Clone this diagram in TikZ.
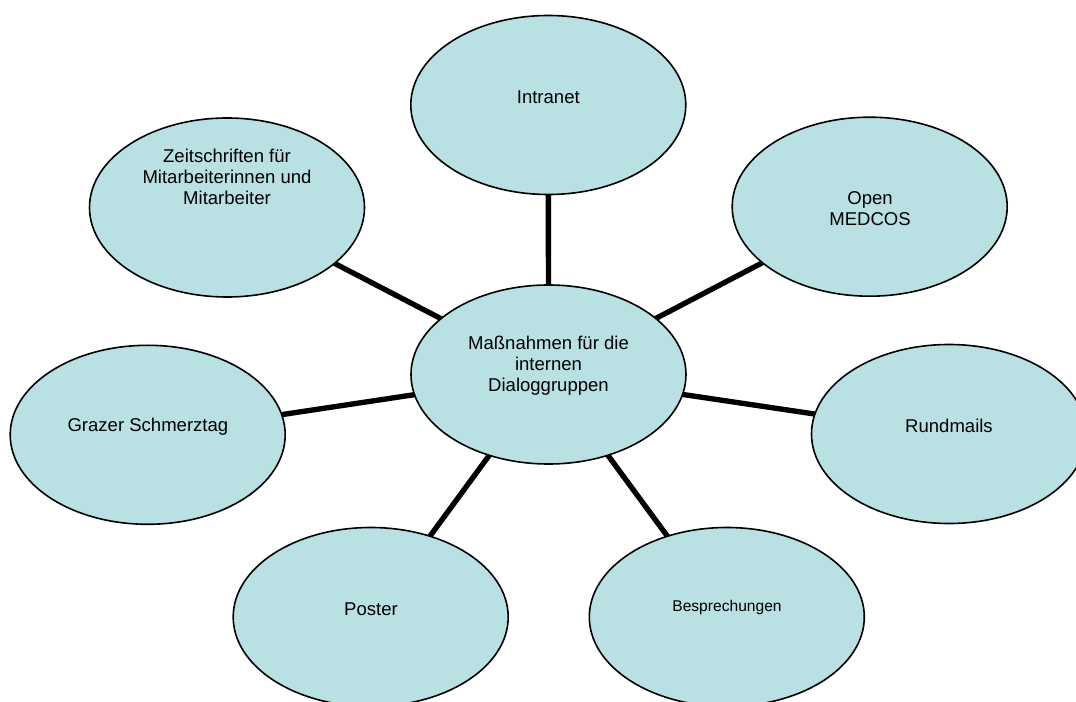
\documentclass[tikz,border=0pt]{standalone}
\usepackage{fontspec}
\setmainfont{Liberation Sans}
\usetikzlibrary{shapes.geometric,backgrounds}
\definecolor{bubblefill}{RGB}{185,224,227}
\begin{document}
\begin{tikzpicture}[x=0.75pt,y=-0.75pt,
  bubble/.style={ellipse,draw=black,line width=1.2pt,fill=bubblefill,
    minimum width=206.25pt,minimum height=134.25pt,inner sep=0pt},
  bubbletext/.style={align=center,inner sep=0pt,
    font=\fontsize{13.9}{15.6}\selectfont},
  smalltext/.style={bubbletext,font=\fontsize{11.7}{14}\selectfont},
  link/.style={line width=4pt}]
\useasboundingbox (0,0) rectangle (1076,702);

% bubbles
\node[bubble] (hub)    at (548.5,374.5) {};
\node[bubble] (intra)  at (548.3,105)   {};
\node[bubble] (zeit)   at (227,207.5)   {};
\node[bubble] (medcos) at (869.7,206.7) {};
\node[bubble] (graz)   at (147.7,434.8) {};
\node[bubble] (mails)  at (949,434)     {};
\node[bubble] (poster) at (370.7,617)   {};
\node[bubble] (bespr)  at (726.8,617)   {};

% texts
\node[bubbletext] (hub-t)    at (548.5,366)  {Maßnahmen für die\\internen\\Dialoggruppen};
\node[bubbletext] (intra-t)  at (548.3,97)   {Intranet};
\node[bubbletext] (zeit-t)   at (227,177)    {Zeitschriften für\\Mitarbeiterinnen und\\Mitarbeiter};
\node[bubbletext] (medcos-t) at (870,209)    {Open\\MEDCOS};
\node[bubbletext] (graz-t)   at (147.9,427)  {Grazer Schmerztag};
\node[bubbletext] (mails-t)  at (949,426)    {Rundmails};
\node[bubbletext] (poster-t) at (371,609)    {Poster};
\node[smalltext]  (bespr-t)  at (727,607)    {Besprechungen};

% spokes, kept behind the bubbles
\begin{scope}[on background layer]
  \foreach \n in {intra,zeit,medcos,graz,mails,poster,bespr}
    \draw[link] (hub.center) -- (\n.center);
\end{scope}
\end{tikzpicture}
\end{document}
